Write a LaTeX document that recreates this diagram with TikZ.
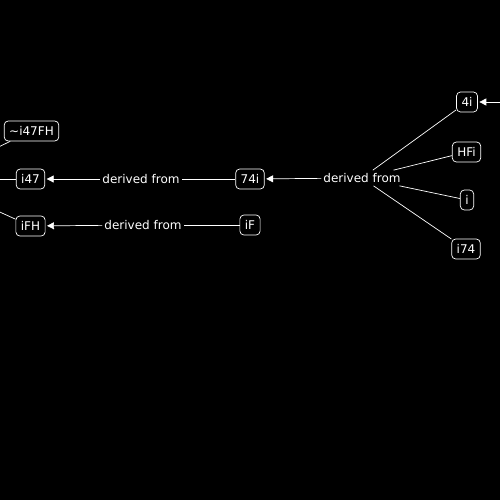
\documentclass[tikz,border=0pt]{standalone}
\usepackage{fontspec}
\setmainfont{DejaVu Sans}
\usetikzlibrary{arrows.meta,positioning}

\begin{document}
\begin{tikzpicture}[x=1pt, y=-1pt,
  item/.style={draw=white, text=white, rounded corners=4pt, line width=0.7pt,
               minimum height=20pt, inner xsep=5pt, inner ysep=3pt,
               font=\fontsize{12}{14}\selectfont},
  rel/.style={text=white, inner xsep=2pt, inner ysep=3pt,
              font=\fontsize{12}{14}\selectfont},
  link/.style={draw=white, line width=0.7pt},
  toarrow/.style={link, -{Triangle[length=7pt,width=7pt]}, shorten >=1.5pt}
]
  \fill[black] (0,0) rectangle (500,500);
  \useasboundingbox (0,0) rectangle (500,500);
  \clip (0,0) rectangle (500,500);

  % left column
  \node[item] (i47fh) at (31.5,131) {\textasciitilde i47FH};
  \node[item] (i47)   at (30.5,179) {i47};
  \node[item] (ifh)   at (30.5,226) {iFH};

  % middle column
  \node[item] (f74i) at (250,179) {74i};
  \node[item] (if)   at (250,225) {iF};

  % right column
  \node[item] (f4i)  at (467,102) {4i};
  \node[item] (hfi)  at (466.5,152) {HFi};
  \node[item] (ii)   at (467,200) {i};
  \node[item] (i74)  at (466,249) {i74};

  % relation labels
  \node[rel] (derA) at (141,179) {derived from};
  \node[rel] (derB) at (362,178) {derived from};
  \node[rel] (derC) at (143,225) {derived from};

  % loose ends off the page
  \coordinate (offA) at (-20,156);
  \coordinate (offB) at (-20,179);
  \coordinate (offC) at (-20,203);
  \coordinate (offD) at (520,102);

  \draw[link] (offA) -- (i47fh);
  \draw[link] (offB) -- (i47);
  \draw[link] (offC) -- (ifh);

  \draw[link] (f74i) -- (derA);
  \draw[toarrow] (derA) -- (i47);
  \draw[link] (if) -- (derC);
  \draw[toarrow] (derC) -- (ifh);

  \draw[toarrow] (derB) -- (f74i);
  \draw[link] (derB) -- (f4i);
  \draw[link] (derB) -- (hfi);
  \draw[link] (derB) -- (ii);
  \draw[link] (derB) -- (i74);
  \draw[toarrow] (offD) -- (f4i);
\end{tikzpicture}
\end{document}
